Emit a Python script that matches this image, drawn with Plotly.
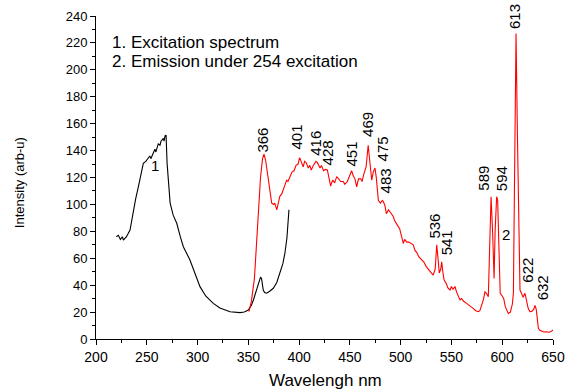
import plotly.graph_objects as go

# Excitation spectrum (curve 1)
exc_wl = [220, 222, 224, 226, 227, 229, 230, 233.5, 236.7, 239, 241.7, 244, 246.6, 249, 251.5,
          253, 254, 256.4, 258, 259, 261.3, 263, 264, 266.3, 267, 268, 269, 270, 271.5, 273,
          276, 279.5, 283, 286, 292.5, 297, 302.4, 308, 315.5, 322, 332, 341.8, 346, 350, 353,
          355, 358, 360, 362, 363, 364.7, 366, 368, 371, 374.6, 378, 381, 384, 386, 388, 390]
exc_int = [76, 77, 74, 76, 73.5, 75, 76, 81, 96, 104, 113, 122, 130.5, 132, 134,
           136, 134, 139, 141, 139, 145, 144, 147, 149, 147, 151, 151.5, 130.5, 115, 101,
           92, 86, 76, 68.6, 58.7, 49, 38.9, 32, 26.5, 23, 20.3, 19.6, 20, 21.5, 25,
           29, 36, 41, 46, 45, 36.4, 34.5, 34, 35.5, 37.7, 42, 48.8, 56, 63.7, 75, 96]

# Emission under 254 nm excitation (curve 2)
em_wl = [350.6, 353, 356, 359, 362, 364, 365.4, 367, 369, 371, 373, 375, 376, 378, 379.5, 381, 383,
         385, 387.7, 389, 391, 393, 395, 397, 399, 400.5, 402, 404, 405.5, 407, 409, 410.5, 412,
         414, 416.6, 418, 420.6, 422, 424, 426, 427.8, 429, 431, 433, 435, 437, 439, 441, 443.5,
         445, 447.5, 449, 451.7, 453.5, 455, 456.7, 458.5, 460.7, 462, 463.5, 464.8, 466, 468,
         469.5, 471.5, 473, 474.7, 476, 478, 480, 482, 483, 484.5, 486, 488, 490, 492.7, 494,
         496, 497.7, 499, 501, 502.6, 504, 506, 508, 510, 512.4, 514, 516, 518, 520.7, 523, 525,
         527, 529, 532, 534, 535.5, 537, 538, 539.5, 540.4, 541.5, 542.7, 545, 546.5, 548.6, 550,
         551.5, 553.5, 555, 556.5, 558.4, 560, 562, 565, 568, 571, 574, 576.4, 578, 579.5, 581.4,
         583, 584.5, 586.3, 587.5, 589, 590.5, 592, 593, 594.5, 595.5, 597, 598, 600, 601.5, 603,
         606, 608, 610, 611, 612, 613.6, 615, 616.5, 617.5, 619.5, 620.5, 622.4, 624, 625.5,
         627.3, 629, 631, 632.3, 633.5, 634.5, 635.6, 637, 639, 641, 643.8, 646, 648, 650]
em_int = [20.3, 28, 45, 80, 120, 134, 137.4, 133, 122, 108, 101, 100, 101, 96, 100, 106, 108,
          113, 118, 117, 120, 124, 125, 129, 130, 134.7, 132, 128, 132, 131, 127, 129, 125.6,
          129, 132, 131, 127, 129, 125, 126, 125.6, 121, 113.7, 118, 116, 120.6, 119, 117, 117,
          115, 117, 120, 125, 121, 119, 113, 119, 119, 117, 122, 125.6, 128, 144,
          134, 118, 124, 127, 120, 103, 101, 103, 102, 99, 93, 96, 94, 91, 88,
          86, 83.5, 82, 76, 71, 74, 72, 72, 71, 70, 66, 64, 61, 58.7, 57, 54,
          52, 50, 47.5, 52, 70, 58, 49, 52, 57.4, 50, 44, 41, 38, 36.4, 39,
          37, 39, 35, 32, 29, 30, 28, 26.5, 25, 23, 21, 20.3, 21, 24, 29,
          35, 34, 31.4, 60, 105.7, 80, 45, 80, 105.7, 103, 60, 34, 32, 30, 24,
          19, 20, 26, 34, 110, 227, 150, 60, 36.4, 33, 31, 34, 28, 23,
          20.3, 20.5, 22, 25, 22, 15, 8, 6.5, 6, 5.2, 5.4, 5, 5.5, 6.7]

# Peak labels and their anchor points (label bottom)
peak_labels = ["366", "401", "416", "428", "451", "469", "475", "483",
               "536", "541", "589", "594", "613", "622", "632"]
peak_x = [363.5, 397, 416.6, 428.4, 452, 467.8, 481.6, 485.5,
          533.8, 544.6, 581.3, 599.5, 612.6, 625.4, 640]
peak_y = [136.7, 139, 135, 127.8, 127, 149, 130.8, 107,
          73.5, 61, 108.5, 108.5, 228.5, 40, 27.5]

legend_lines = ["1. Excitation spectrum", "2. Emission under 254 excitation"]

x_ticks = [200, 250, 300, 350, 400, 450, 500, 550, 600, 650]
y_ticks = [0, 20, 40, 60, 80, 100, 120, 140, 160, 180, 200, 220, 240]

FONT = "Liberation Sans, Arial, sans-serif"

fig = go.Figure()
fig.add_trace(go.Scatter(x=exc_wl, y=exc_int, mode="lines",
                         line=dict(color="black", width=1.1), showlegend=False))
fig.add_trace(go.Scatter(x=em_wl, y=em_int, mode="lines",
                         line=dict(color="red", width=1.1), showlegend=False))

for lab, px, py in zip(peak_labels, peak_x, peak_y):
    fig.add_annotation(x=px, y=py, xref="x", yref="y", text=lab, showarrow=False,
                       textangle=-90, xanchor="center", yanchor="bottom",
                       font=dict(family=FONT, size=15, color="black"))

fig.add_annotation(x=258, y=129, xref="x", yref="y", text="1", showarrow=False,
                   font=dict(family=FONT, size=15, color="black"))
fig.add_annotation(x=604, y=78, xref="x", yref="y", text="2", showarrow=False,
                   font=dict(family=FONT, size=15, color="black"))

for i, t in enumerate(legend_lines):
    fig.add_annotation(x=213.5, y=220.6 - 14.1 * i, xref="x", yref="y", text=t,
                       showarrow=False, xanchor="left", yanchor="middle",
                       font=dict(family=FONT, size=17, color="black"))

# axis titles
fig.add_annotation(x=0.503, y=-0.13, xref="paper", yref="paper", text="Wavelengh nm",
                   showarrow=False, xanchor="center", yanchor="middle",
                   font=dict(family=FONT, size=17, color="black"))
fig.add_annotation(x=-0.166, y=0.483, xref="paper", yref="paper", text="Intensity (arb-u)",
                   showarrow=False, xanchor="center", yanchor="middle", textangle=-90,
                   font=dict(family=FONT, size=13, color="black"))

fig.update_layout(
    width=565, height=392,
    margin=dict(l=96, r=12, t=16, b=53, autoexpand=False),
    paper_bgcolor="white", plot_bgcolor="white",
    font=dict(family=FONT, color="black"),
)
fig.update_xaxes(range=[200, 650], tickvals=x_ticks, ticks="outside", ticklen=5,
                 tickcolor="black", showline=True, linecolor="black", linewidth=1,
                 showgrid=False, zeroline=False, automargin=False,
                 minor=dict(dtick=25, ticks="outside", ticklen=3, tickcolor="black"),
                 tickfont=dict(family=FONT, size=14, color="black"))
fig.update_yaxes(range=[0, 240], tickvals=y_ticks, ticks="outside", ticklen=5,
                 tickcolor="black", showline=True, linecolor="black", linewidth=1,
                 showgrid=False, zeroline=False, automargin=False,
                 minor=dict(dtick=10, ticks="outside", ticklen=3, tickcolor="black"),
                 tickfont=dict(family=FONT, size=13, color="black"))

fig.write_html(
    "out.html",
    config={"displayModeBar": False},
    post_script="document.body.style.margin='0';document.body.style.overflow='hidden';",
)
